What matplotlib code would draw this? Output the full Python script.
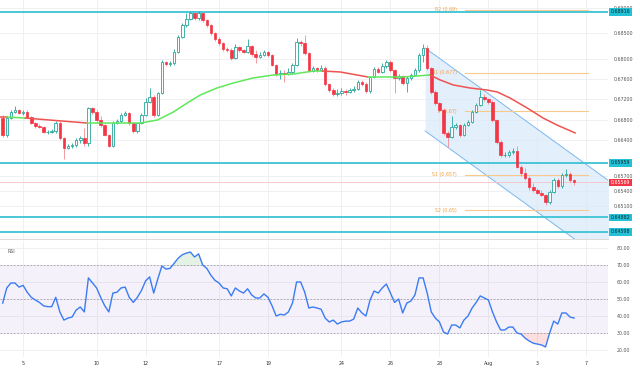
import numpy as np
import matplotlib
matplotlib.use("Agg")
import matplotlib.pyplot as plt

# 4h candles
first_open = 0.66834
close = [0.66501, 0.66834, 0.66952, 0.66991, 0.66933, 0.66952, 0.66854, 0.66736, 0.66677, 0.66658,
         0.66560, 0.66560, 0.66579, 0.66736, 0.66442, 0.66246, 0.66285, 0.66305, 0.66403, 0.66442,
         0.66344, 0.67031, 0.66952, 0.66795, 0.66697, 0.66501, 0.66285, 0.66736, 0.66776, 0.66893,
         0.66933, 0.66736, 0.66579, 0.66736, 0.66893, 0.67149, 0.67247, 0.66893, 0.67325, 0.67934,
         0.67895, 0.67914, 0.68130, 0.68425, 0.68660, 0.68778, 0.68896, 0.68798, 0.68896, 0.68758,
         0.68660, 0.68503, 0.68385, 0.68307, 0.68189, 0.68170, 0.68012, 0.68228, 0.68170, 0.68130,
         0.68248, 0.68091, 0.68032, 0.68071, 0.68130, 0.68071, 0.67875, 0.67698, 0.67718, 0.67698,
         0.67738, 0.67875, 0.68327, 0.68307, 0.68111, 0.67757, 0.67816, 0.67777, 0.67816, 0.67502,
         0.67384, 0.67306, 0.67325, 0.67365, 0.67345, 0.67384, 0.67404, 0.67541, 0.67502, 0.67365,
         0.67640, 0.67796, 0.67738, 0.67855, 0.67934, 0.67777, 0.67620, 0.67659, 0.67522, 0.67620,
         0.67679, 0.67777, 0.68071, 0.68209, 0.67816, 0.67345, 0.67129, 0.66991, 0.66540, 0.66462,
         0.66658, 0.66697, 0.66501, 0.66697, 0.66756, 0.66952, 0.67090, 0.67247, 0.67208, 0.67149,
         0.66795, 0.66364, 0.66109, 0.66109, 0.66167, 0.66187, 0.65873, 0.65755, 0.65657, 0.65480,
         0.65421, 0.65362, 0.65323, 0.65186, 0.65382, 0.65617, 0.65500, 0.65716, 0.65735, 0.65617,
         0.65569]
high = [0.66893, 0.66874, 0.66991, 0.67070, 0.67011, 0.66991, 0.66991, 0.66874, 0.66756, 0.66717,
        0.66677, 0.66599, 0.66619, 0.66776, 0.66776, 0.66462, 0.66325, 0.66344, 0.66442, 0.66481,
        0.66638, 0.67050, 0.67050, 0.66991, 0.66874, 0.66717, 0.66521, 0.66776, 0.66815, 0.66933,
        0.66972, 0.66952, 0.66756, 0.66756, 0.66933, 0.67227, 0.67424, 0.67286, 0.67345, 0.67973,
        0.67954, 0.67954, 0.68189, 0.68464, 0.68700, 0.68896, 0.68935, 0.68935, 0.68935, 0.68935,
        0.68778, 0.68680, 0.68523, 0.68425, 0.68327, 0.68228, 0.68209, 0.68287, 0.68248, 0.68189,
        0.68385, 0.68268, 0.68170, 0.68130, 0.68170, 0.68150, 0.68091, 0.67895, 0.67777, 0.67777,
        0.67816, 0.67914, 0.68405, 0.68366, 0.68464, 0.68130, 0.67855, 0.67836, 0.67875, 0.67855,
        0.67522, 0.67424, 0.67404, 0.67424, 0.67404, 0.67424, 0.67463, 0.67581, 0.67581, 0.67541,
        0.67659, 0.67836, 0.67836, 0.67914, 0.67973, 0.67973, 0.67796, 0.67698, 0.67679, 0.67659,
        0.67718, 0.67816, 0.68111, 0.68287, 0.68268, 0.67836, 0.67384, 0.67149, 0.67031, 0.66579,
        0.66874, 0.66736, 0.66717, 0.66736, 0.66795, 0.66991, 0.67129, 0.67384, 0.67306, 0.67227,
        0.67188, 0.66815, 0.66403, 0.66167, 0.66207, 0.66246, 0.66285, 0.65912, 0.65853, 0.65696,
        0.65558, 0.65460, 0.65421, 0.65343, 0.65421, 0.65657, 0.65657, 0.65755, 0.65833, 0.65775,
        0.65637]
low = [0.66462, 0.66462, 0.66815, 0.66933, 0.66913, 0.66893, 0.66834, 0.66717, 0.66638, 0.66638,
       0.66540, 0.66521, 0.66540, 0.66540, 0.66403, 0.66030, 0.66226, 0.66246, 0.66266, 0.66344,
       0.66285, 0.66285, 0.66913, 0.66736, 0.66658, 0.66481, 0.66266, 0.66266, 0.66717, 0.66756,
       0.66874, 0.66697, 0.66540, 0.66540, 0.66717, 0.66874, 0.67129, 0.66854, 0.66874, 0.67306,
       0.67855, 0.67855, 0.67875, 0.68111, 0.68405, 0.68621, 0.68758, 0.68758, 0.68758, 0.68719,
       0.68621, 0.68464, 0.68346, 0.68268, 0.68150, 0.68130, 0.67973, 0.67993, 0.68130, 0.68111,
       0.68111, 0.68052, 0.67914, 0.68012, 0.68052, 0.68032, 0.67855, 0.67659, 0.67600, 0.67541,
       0.67679, 0.67698, 0.67855, 0.68248, 0.68071, 0.67738, 0.67738, 0.67738, 0.67757, 0.67463,
       0.67345, 0.67266, 0.67266, 0.67286, 0.67286, 0.67325, 0.67345, 0.67384, 0.67463, 0.67325,
       0.67325, 0.67620, 0.67718, 0.67718, 0.67816, 0.67738, 0.67325, 0.67581, 0.67483, 0.67345,
       0.67581, 0.67659, 0.67738, 0.67934, 0.67777, 0.67306, 0.67090, 0.66952, 0.66501, 0.66266,
       0.66442, 0.66619, 0.66462, 0.66481, 0.66677, 0.66736, 0.66933, 0.67070, 0.67168, 0.67109,
       0.66756, 0.66325, 0.66069, 0.66069, 0.66069, 0.66128, 0.65853, 0.65696, 0.65617, 0.65421,
       0.65382, 0.65343, 0.65303, 0.65127, 0.65147, 0.65362, 0.65460, 0.65460, 0.65676, 0.65578,
       0.65519]

rsi = [47.6, 56.5, 59.4, 59.4, 57.0, 58.0, 54.0, 51.0, 49.4, 48.0, 46.0, 45.5, 45.5, 51.0, 42.4,
       37.6, 38.8, 39.4, 43.5, 45.3, 42.4, 62.4, 59.4, 56.5, 51.0, 46.0, 42.4, 53.5, 54.0, 56.5,
       57.0, 51.0, 48.0, 51.0, 55.0, 60.6, 63.0, 53.5, 61.8, 69.4, 67.6, 68.0, 71.0, 74.0, 76.0,
       77.0, 77.6, 74.7, 76.5, 70.0, 68.0, 64.0, 61.0, 59.4, 56.5, 56.0, 51.8, 56.5, 54.7, 53.5,
       56.0, 52.4, 50.6, 50.6, 53.0, 51.0, 46.0, 40.0, 41.0, 40.6, 42.4, 47.6, 60.0, 60.0, 54.0,
       44.7, 45.3, 44.7, 44.0, 38.8, 36.5, 37.6, 35.3, 36.5, 37.0, 37.0, 38.2, 44.7, 41.8, 40.0,
       49.4, 54.7, 53.5, 56.5, 58.8, 53.5, 48.0, 50.0, 41.8, 47.6, 48.8, 52.4, 62.4, 62.4, 53.5,
       42.4, 38.8, 36.5, 30.6, 29.4, 34.7, 34.7, 33.0, 37.6, 40.0, 44.7, 48.0, 51.8, 50.6, 49.4,
       42.4, 36.5, 31.8, 31.8, 33.5, 33.5, 30.0, 29.4, 27.0, 25.3, 24.0, 23.5, 23.0, 21.8, 30.0,
       37.0, 35.3, 41.8, 41.8, 39.4, 38.8]

# moving average, read at candle positions
ma_idx = [-0.7, 1.0, 5.5, 20.7, 33.7, 37.9, 41.8, 45.2, 48.4, 52.5, 56.5, 61.3, 66.3, 71.2, 76.1,
          78.3, 82.7, 89.5, 98.1, 104.7, 107.2, 110.4, 114.5, 118.7, 121.2, 124.3, 128.5, 132.4,
          135.8, 140.3]
ma_val = [0.66854, 0.66854, 0.66834, 0.66736, 0.66736, 0.66795, 0.66952, 0.67129, 0.67286, 0.67424,
          0.67522, 0.67620, 0.67679, 0.67698, 0.67757, 0.67757, 0.67738, 0.67640, 0.67640, 0.67679,
          0.67581, 0.67483, 0.67424, 0.67384, 0.67345, 0.67227, 0.67031, 0.66834, 0.66697, 0.66540]
ma_breaks = [1.0, 5.5, 20.7, 78.3, 89.5, 104.7]

day_labels = ['5', '10', '12', '17', '19', '24', '26', '28', 'Aug', '3', '7']
day_idx = [5, 23, 35, 53, 65, 83, 95, 107, 119, 131, 143]

levels = [0.68916, 0.65959, 0.64882, 0.64598]
last_price = 0.65569

pivot_names = ['R2 (0.69)', 'R1 (0.677)', 'P (0.67)', 'S1 (0.657)', 'S2 (0.65)']
pivot_vals = [0.6896, 0.6772, 0.6697, 0.6572, 0.6502]
pivot_span = [113.3, 143.5]

chan_x = [103.5, 148.9]
chan_upper = [0.68209, 0.65579]
chan_lower = [0.66580, 0.63949]

price_ticks = [0.690, 0.685, 0.680, 0.676, 0.672, 0.668, 0.664, 0.657, 0.654, 0.651]

n = len(close)
idx = np.arange(n)
opens = np.array([first_open] + close[:-1])
close = np.array(close)
high = np.array(high)
low = np.array(low)
rsi = np.array(rsi)

GREEN = '#26a69a'
RED = '#f23645'
GRID = '#f0f0f3'
TXT = '#555555'
FS = 3.4

fig = plt.figure(figsize=(6.4, 3.71), dpi=100)
ax = fig.add_axes([0.0, 0.3558, 0.95, 0.6442])
ax2 = fig.add_axes([0.0, 0.0377, 0.95, 0.3127], sharex=ax)

xlim = (-0.66, 148.3)

# --- price panel ---
for a in (ax, ax2):
    for d in day_idx:
        a.axvline(d, color=GRID, lw=0.7, zorder=0)
for p in price_ticks:
    ax.axhline(p, color=GRID, lw=0.7, zorder=0)

# channel
ax.fill_between(chan_x, chan_lower, chan_upper, color='#dbeafb', alpha=0.75, lw=0, zorder=1)
ax.plot(chan_x, chan_upper, color='#7ab8ef', lw=0.7, zorder=2)
ax.plot(chan_x, chan_lower, color='#7ab8ef', lw=0.7, zorder=2)

# pivots
for name, v in zip(pivot_names, pivot_vals):
    ax.plot(pivot_span, [v, v], color='#f7c98a', lw=0.8, zorder=2)
    ax.text(pivot_span[0] - 2, v, name, color='#f0a040', fontsize=FS, ha='right', va='center', zorder=3)

# levels
for v in levels:
    ax.axhline(v, color='#3cc3d6', lw=1.3, zorder=3)
    ax.annotate(f'{v:.5f}', xy=(1.0, v), xycoords=('axes fraction', 'data'), xytext=(2, 0),
                textcoords='offset points', fontsize=FS, color='#0d2b33', va='center', ha='left',
                annotation_clip=False, zorder=6,
                bbox=dict(boxstyle='square,pad=0.3', fc='#22c1d6', ec='none'))
ax.axhline(last_price, color='#f6c1c5', lw=0.6, zorder=2)
ax.annotate(f'{last_price:.5f}', xy=(1.0, last_price), xycoords=('axes fraction', 'data'), xytext=(2, 0),
            textcoords='offset points', fontsize=FS, color='white', va='center', ha='left',
            annotation_clip=False, zorder=6,
            bbox=dict(boxstyle='square,pad=0.3', fc=RED, ec='none'))

# candles
up = close >= opens
ax.vlines(idx[up], low[up], high[up], color=GREEN, lw=0.6, zorder=4)
ax.vlines(idx[~up], low[~up], high[~up], color='#f48a94', lw=0.6, zorder=4)
ax.bar(idx[up], close[up] - opens[up], bottom=opens[up], width=0.62,
       color='white', edgecolor=GREEN, linewidth=0.6, zorder=5)
ax.bar(idx[~up], close[~up] - opens[~up], bottom=opens[~up], width=0.62,
       color=RED, edgecolor=RED, linewidth=0.5, zorder=5)

# moving average, coloured in pieces
ma_idx = np.array(ma_idx)
ma_val = np.array(ma_val)
edges = [ma_idx[0]] + ma_breaks + [ma_idx[-1]]
for k in range(len(edges) - 1):
    m = (ma_idx >= edges[k]) & (ma_idx <= edges[k + 1])
    col = '#ef5350' if k % 2 == 0 else '#5ee85a'
    ax.plot(ma_idx[m], ma_val[m], color=col, lw=1.1, zorder=6, solid_capstyle='round')

ax.set_xlim(*xlim)
ax.set_ylim(0.64460, 0.69151)
ax.yaxis.tick_right()
ax.set_yticks(price_ticks)
ax.set_yticklabels([f'{p:.5f}' for p in price_ticks])
ax.tick_params(axis='y', length=0, labelsize=FS, labelcolor=TXT, pad=4)
ax.tick_params(axis='x', length=0, labelbottom=False)
for s in ax.spines.values():
    s.set_visible(False)
ax.spines['bottom'].set_visible(True)
ax.spines['bottom'].set_color('#d6d6d6')
ax.spines['bottom'].set_linewidth(0.6)

# --- RSI panel ---
for r in [20, 30, 40, 50, 60, 70, 80]:
    ax2.axhline(r, color=GRID, lw=0.7, zorder=0)
ax2.axhspan(30, 70, color='#7e57c2', alpha=0.08, lw=0, zorder=1)
for r in (70, 50, 30):
    ax2.axhline(r, color='#a0a0a8', lw=0.6, ls=(0, (2, 2)), zorder=2)
ax2.fill_between(idx, 70, rsi, where=rsi > 70, interpolate=True, color='#66bb6a', alpha=0.18, lw=0, zorder=2)
ax2.fill_between(idx, 30, rsi, where=rsi < 30, interpolate=True, color='#ef5350', alpha=0.18, lw=0, zorder=2)
ax2.plot(idx, rsi, color='#3b7cf2', lw=1.0, zorder=3)
ax2.text(0.012, 0.93, 'RSI', transform=ax2.transAxes, fontsize=FS, color=TXT, va='top')

ax2.set_ylim(15.9, 84.1)
ax2.yaxis.tick_right()
rsi_ticks = [20, 30, 40, 50, 60, 70, 80]
ax2.set_yticks(rsi_ticks)
ax2.set_yticklabels([f'{r:.2f}' for r in rsi_ticks])
ax2.tick_params(axis='y', length=0, labelsize=FS, labelcolor=TXT, pad=6)
ax2.set_xticks(day_idx)
ax2.set_xticklabels(day_labels)
ax2.tick_params(axis='x', length=0, labelsize=FS, labelcolor='#333333', pad=3)
for s in ax2.spines.values():
    s.set_visible(False)
ax2.set_xlim(*xlim)

fig.savefig('out.png', dpi=100)
